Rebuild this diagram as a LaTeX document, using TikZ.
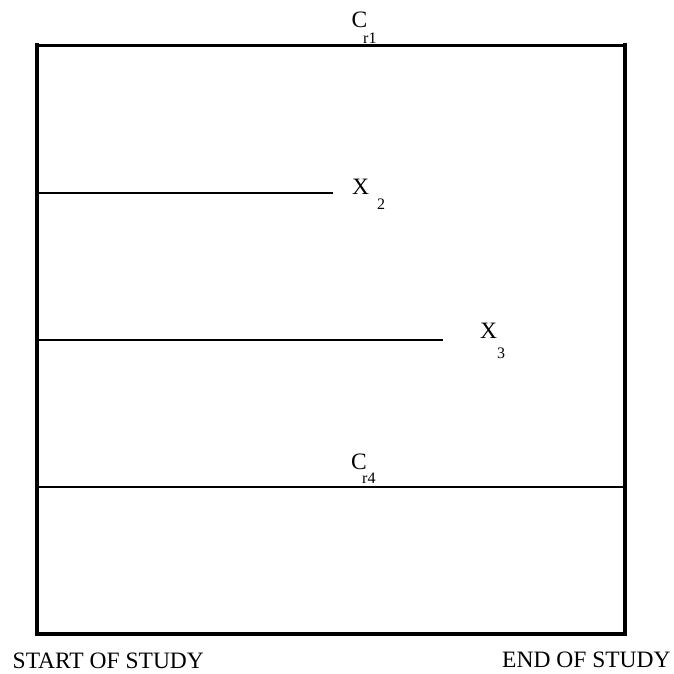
\documentclass[tikz,border=0pt]{standalone}
\usepackage{fontspec}
\setmainfont{Liberation Serif}
\begin{document}
\begin{tikzpicture}[x=1pt,y=-1pt,
  frameline/.style={line width=4pt, line join=miter},
  topline/.style={line width=2.3pt},
  eventline/.style={line width=1.7pt},
  big/.style={font=\fontsize{23.5}{27}\selectfont, inner sep=0pt, anchor=base west},
  small/.style={font=\fontsize{16}{19}\selectfont, inner sep=0pt, anchor=base west}]
\useasboundingbox (0,0) rectangle (674,673);
% frame corners
\coordinate (tl) at (36.5,43);
\coordinate (bl) at (36.5,634);
\coordinate (br) at (625.3,634);
\coordinate (tr) at (625.3,43);
\draw[frameline] (tl) -- (bl) -- (br) -- (tr);
% horizontal lines
\coordinate (c1s) at (36.5,45.5);
\coordinate (c1e) at (625.3,45.5);
\draw[topline] (c1s) -- (c1e);
\coordinate (x2s) at (36.5,193);
\coordinate (x2e) at (333,193);
\draw[eventline] (x2s) -- (x2e);
\coordinate (x3s) at (36.5,340);
\coordinate (x3e) at (443,340);
\draw[eventline] (x3s) -- (x3e);
\coordinate (c4s) at (36.5,487);
\coordinate (c4e) at (625.3,487);
\draw[eventline] (c4s) -- (c4e);
% labels
\node[big] (cr1) at (351.5,27) {C};
\node[small] (cr1s) at (363,43.3) {r1};
\node[big] (x2) at (352,194) {X};
\node[small] (x2s) at (377,209) {2};
\node[big] (x3) at (480,338) {X};
\node[small] (x3s) at (497,358) {3};
\node[big] (cr4) at (351,469) {C};
\node[small] (cr4s) at (362,483) {r4};
\node[big] (start) at (12.5,668) {START OF STUDY};
\node[big] (end) at (502,667) {END OF STUDY};
\end{tikzpicture}
\end{document}
